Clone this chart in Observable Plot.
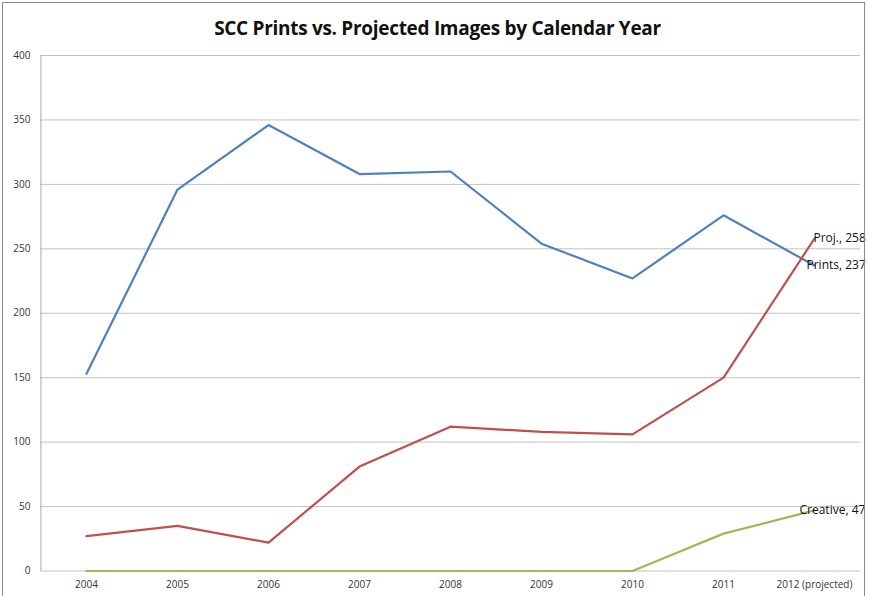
<!DOCTYPE html>
<html>
<head>
<meta charset="utf-8">
<script src="https://cdn.jsdelivr.net/npm/d3@7"></script>
<script src="https://cdn.jsdelivr.net/npm/@observablehq/plot@0.6"></script>
<style>
  html, body { margin: 0; padding: 0; background: #fff; }
  #wrap { position: relative; width: 869px; height: 596px; overflow: hidden; }
  #frame { position: absolute; left: 2px; top: 2px; width: 863px; height: 620px; border: 1px solid #8c8c8c; box-sizing: border-box; pointer-events: none; }
  #title { height: 42px; line-height: 56px; text-align: center; font-family: "Open Sans", sans-serif; font-weight: bold; font-size: 19px; color: #111; padding-left: 6px; letter-spacing: -0.3px; }
</style>
</head>
<body>
<div id="wrap">
  <div id="title">SCC Prints vs. Projected Images by Calendar Year</div>
  <div id="chart"></div>
  <div id="frame"></div>
</div>
<script>
const years = ["2004", "2005", "2006", "2007", "2008", "2009", "2010", "2011", "2012 (projected)"];
const prints = [153, 296, 346, 308, 310, 254, 227, 276, 237];
const projected = [27, 35, 22, 81, 112, 108, 106, 150, 258];
const creative = [0, 0, 0, 0, 0, 0, 0, 29, 47];
const seriesNames = ["Prints", "Proj.", "Creative"];
const seriesColors = ["#4f81bd", "#c0504d", "#9bbb59"];
const yTicks = [0, 50, 100, 150, 200, 250, 300, 350, 400];

const allSeries = [prints, projected, creative];
const rows = [];
allSeries.forEach((vals, s) => vals.forEach((v, i) => rows.push({series: seriesNames[s], year: years[i], value: v})));
const lastRows = seriesNames.map((name, s) => ({series: name, year: years[years.length - 1], value: allSeries[s][years.length - 1]}));
const labelDx = {"Prints": -8, "Proj.": -1, "Creative": -15};

const W = 869, ML = 40, MR = 9;
const halfStep = (W - ML - MR) / years.length / 2;

const font = "'Open Sans', sans-serif";
const chart = Plot.plot({
  width: W,
  height: 554,
  marginLeft: ML,
  marginRight: MR,
  marginTop: 13,
  marginBottom: 25.5,
  style: {fontFamily: font, fontSize: "10px", color: "#333", background: "transparent"},
  x: {type: "point", domain: years, padding: 0.5, label: null},
  y: {domain: [0, 400], label: null},
  color: {domain: seriesNames, range: seriesColors},
  marks: [
    Plot.ruleY(yTicks, {stroke: "#c3c3c3", strokeWidth: 1}),
    Plot.ruleX([years[0]], {dx: -halfStep, y1: 0, y2: 400, stroke: "#a8a8a8", strokeWidth: 1}),
    Plot.axisY(yTicks, {tickSize: 0, tickPadding: 10, fontSize: 10, fill: "#333", label: null}),
    Plot.axisX({tickSize: 0, tickPadding: 10, fontSize: 10, fill: "#333", label: null}),
    Plot.line(rows, {x: "year", y: "value", z: "series", stroke: "series", strokeWidth: 2.2}),
    ...lastRows.map(r => Plot.text([r], {x: "year", y: "value", text: d => `${d.series}, ${d.value}`, textAnchor: "start", dx: labelDx[r.series], fontSize: 12, fill: "#111", fontFamily: font}))
  ]
});
document.getElementById("chart").appendChild(chart);
</script>
</body>
</html>
